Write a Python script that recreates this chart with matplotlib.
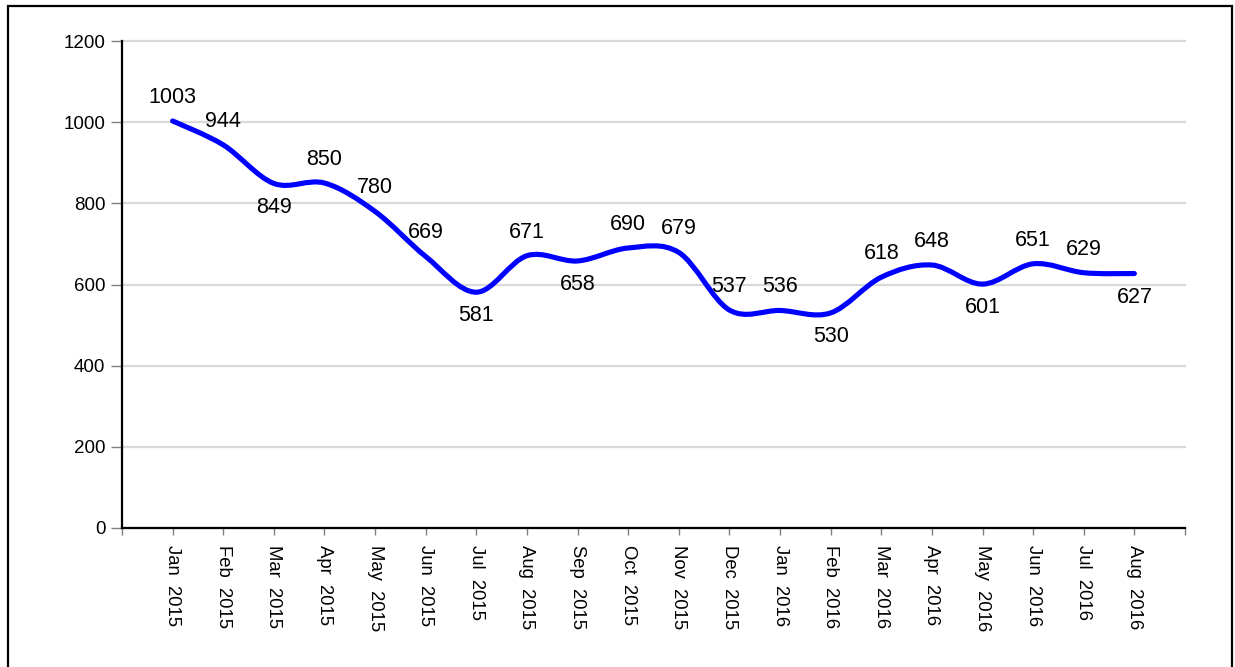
import matplotlib
matplotlib.use('Agg')
import matplotlib.pyplot as plt
from matplotlib.path import Path
from matplotlib.patches import PathPatch, Rectangle
import numpy as np

months = ['Jan  2015', 'Feb  2015', 'Mar  2015', 'Apr  2015', 'May  2015',
          'Jun  2015', 'Jul  2015', 'Aug  2015', 'Sep  2015', 'Oct  2015',
          'Nov  2015', 'Dec  2015', 'Jan  2016', 'Feb  2016', 'Mar  2016',
          'Apr  2016', 'May  2016', 'Jun  2016', 'Jul  2016', 'Aug  2016']
values = [1003, 944, 849, 850, 780, 669, 581, 671, 658, 690,
          679, 537, 536, 530, 618, 648, 601, 651, 629, 627]
# 1 = label above the point, -1 = below
label_side = [1, 1, -1, 1, 1, 1, -1, 1, -1, 1,
              1, 1, 1, -1, 1, 1, -1, 1, 1, -1]

plt.rcParams['font.family'] = ['Liberation Sans', 'DejaVu Sans']

fig = plt.figure(figsize=(12.35, 6.67), dpi=100)
ax = fig.add_axes([122 / 1235, 1 - 528 / 667, (1185 - 122) / 1235, (528 - 41) / 667])

xs = np.arange(1, len(values) + 1)
ys = np.array(values, dtype=float)

# smooth curve through the points as cubic bezier segments (catmull-rom)
pts = np.column_stack([xs, ys])
verts = [pts[0]]
codes = [Path.MOVETO]
n = len(pts)
for i in range(n - 1):
    p0 = pts[i - 1] if i > 0 else pts[i]
    p1 = pts[i]
    p2 = pts[i + 1]
    p3 = pts[i + 2] if i + 2 < n else pts[i + 1]
    c1 = p1 + (p2 - p0) / 6.0
    c2 = p2 - (p3 - p1) / 6.0
    verts += [c1, c2, p2]
    codes += [Path.CURVE4] * 3
ax.add_patch(PathPatch(Path(verts, codes), facecolor='none', edgecolor='#0000ff',
                       lw=3.7, capstyle='round', joinstyle='round', zorder=3))

for x, v, s in zip(xs, values, label_side):
    ax.annotate(str(v), (x, v), xytext=(0, 17 * s), textcoords='offset points',
                ha='center', va='center', fontsize=15.5, color='black', zorder=4)

ax.set_xlim(0, len(values) + 1)
ax.set_ylim(0, 1200)
ax.set_yticks(np.arange(0, 1201, 200))
ax.set_xticks(np.arange(0, len(values) + 2))
ax.set_xticklabels([''] + months + [''], rotation=-90, va='top', ha='center',
                   fontsize=13.3)
ax.tick_params(axis='y', labelsize=13.5, length=8, width=1, color='#808080', pad=4)
ax.tick_params(axis='x', length=5, width=1, color='#808080', pad=7)

ax.grid(axis='y', color='#d9d9d9', lw=1.6, zorder=0)
for gl in ax.get_ygridlines():
    gl.set_clip_on(False)
ax.set_axisbelow(True)
for side in ['top', 'right']:
    ax.spines[side].set_visible(False)
ax.spines['left'].set_linewidth(1.6)
ax.spines['bottom'].set_linewidth(1.6)

# frame around the figure
fig.patches.append(Rectangle((8 / 1235, -0.05), (1232 - 8) / 1235, 1.05 - 6 / 667,
                             transform=fig.transFigure, fill=False,
                             edgecolor='black', lw=1.6, zorder=10))

fig.savefig('out.png', dpi=100)
plt.close()
